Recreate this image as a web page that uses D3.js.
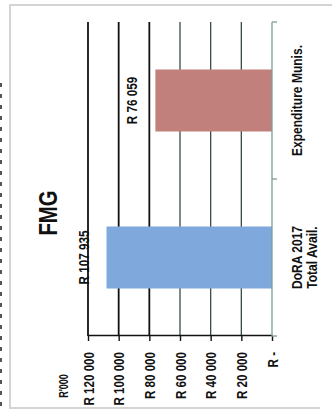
<!DOCTYPE html>
<html>
<head>
<meta charset="utf-8">
<script src="https://cdn.jsdelivr.net/npm/d3@7"></script>
<style>
  html, body { margin: 0; padding: 0; background: #fff; }
  svg { display: block; }
  text { font-family: "Liberation Sans", Arial, sans-serif; fill: #111; }
</style>
</head>
<body>
<svg id="chart" width="332" height="411"></svg>
<script>
// FMG: funds available vs. spent by municipalities (R'000)
const title = "FMG";
const unitLabel = "R'000";
const categories = [["DoRA 2017", "Total Avail."], ["Expenditure Munis."]];
const values = [107935, 76059];
const valueLabels = ["R 107 935", "R 76 059"];
const barColors = ["#7fa8dc", "#c1807b"];
const tickValues = [0, 20000, 40000, 60000, 80000, 100000, 120000];
const tickLabels = ["R -", "R 20 000", "R 40 000", "R 60 000", "R 80 000", "R 100 000", "R 120 000"];

// squeeze text horizontally to get a narrow, condensed face
function condense(sel, factor) {
  sel.each(function () {
    const len = this.getComputedTextLength();
    d3.select(this).attr("textLength", len * factor).attr("lengthAdjust", "spacingAndGlyphs");
  });
}

const svg = d3.select("#chart");

// page frame
svg.append("path")
  .attr("d", "M332,5 H10 V408 H320")
  .attr("fill", "none").attr("stroke", "#d4d4d4").attr("stroke-width", 2);
// clipped edge of the neighbouring page text
svg.append("line")
  .attr("x1", 1).attr("x2", 1).attr("y1", 83).attr("y2", 411)
  .attr("stroke", "#555").attr("stroke-width", 2).attr("stroke-dasharray", "4,7");

// the chart is laid out as a column chart and turned a quarter turn
const W = 314, H = 184;
const g = svg.append("g").attr("transform", "translate(88,336) rotate(-90)");

const x = d3.scaleBand().domain(d3.range(categories.length)).range([0, W]);
const y = d3.scaleLinear().domain([0, 120000]).range([H, 0]);

// horizontal gridlines
g.append("g").selectAll("line").data(tickValues).join("line")
  .attr("x1", 0).attr("x2", W)
  .attr("y1", d => y(d)).attr("y2", d => y(d))
  .attr("stroke", (d, i) => i === 0 ? "none" : (d >= 80000 ? "#111" : "#3a4a4a"))
  .attr("stroke-width", d => d >= 80000 ? 1.8 : 1.3);

// value axis
const yAxis = d3.axisLeft(y).tickValues(tickValues)
  .tickFormat((d, i) => tickLabels[i]).tickSize(5).tickSizeOuter(0).tickPadding(11);
const ya = g.append("g").call(yAxis);
ya.select(".domain").attr("stroke", "#111").attr("stroke-width", 1.6);
ya.selectAll(".tick line").attr("stroke", "#111").attr("stroke-width", 1.4);
ya.selectAll(".tick text").attr("font-size", 14.5).attr("font-weight", "bold")
  .attr("font-family", "'Liberation Sans', Arial, sans-serif")
  .attr("dy", "0.35em").attr("fill", "#111").call(condense, 0.8);

// unit label
g.append("text").attr("x", -50).attr("y", -20)
  .attr("text-anchor", "middle").attr("font-size", 12).attr("font-weight", "bold")
  .text(unitLabel).call(condense, 0.75);

// bars
const barW = x.bandwidth() * 0.395;
g.append("g").selectAll("rect").data(values).join("rect")
  .attr("x", (d, i) => x(i) + (x.bandwidth() - barW) / 2)
  .attr("width", barW)
  .attr("y", d => y(d))
  .attr("height", d => H - y(d))
  .attr("fill", (d, i) => barColors[i]);

// value labels
g.append("g").selectAll("text").data(values).join("text")
  .attr("x", (d, i) => x(i) + x.bandwidth() / 2)
  .attr("y", d => y(d) - 18)
  .attr("text-anchor", "middle").attr("font-size", 15).attr("font-weight", "bold")
  .text((d, i) => valueLabels[i]).call(condense, 0.78);

// category axis
g.append("line").attr("x1", 0).attr("x2", W).attr("y1", H).attr("y2", H)
  .attr("stroke", "#7f9c9c").attr("stroke-width", 1.3);
g.append("g").selectAll("line").data([0, x.bandwidth(), W]).join("line")
  .attr("x1", d => d).attr("x2", d => d).attr("y1", H).attr("y2", H + 5)
  .attr("stroke", "#7f9c9c").attr("stroke-width", 1.3);

const cat = g.append("g").selectAll("text").data(categories).join("text")
  .attr("x", (d, i) => x(i) + x.bandwidth() / 2)
  .attr("y", H + 30)
  .attr("text-anchor", "middle").attr("font-size", 14.5).attr("font-weight", "bold");
cat.selectAll("tspan").data(d => d).join("tspan")
  .attr("x", function () { return this.parentNode.getAttribute("x"); })
  .attr("dy", (d, i) => i === 0 ? 0 : 15)
  .text(d => d)
  .call(condense, 0.83);

// title
g.append("text").attr("x", 123).attr("y", -31)
  .attr("text-anchor", "middle").attr("font-size", 26).attr("font-weight", "bold")
  .text(title).call(condense, 0.78);
</script>
</body>
</html>
